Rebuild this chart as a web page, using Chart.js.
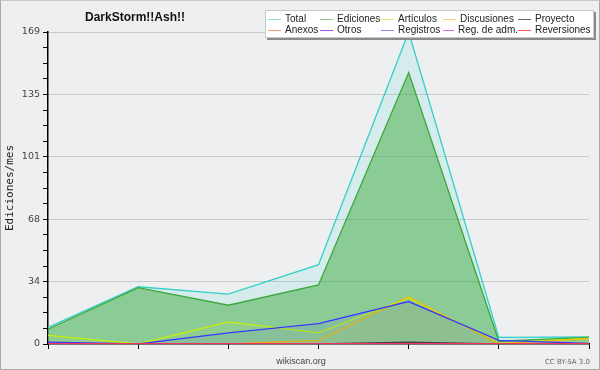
<!DOCTYPE html>
<html>
<head>
<meta charset="utf-8">
<script src="https://cdn.jsdelivr.net/npm/chart.js@4.4.0/dist/chart.umd.min.js"></script>
<style>
  html, body { margin: 0; padding: 0; background: #eeeff0; }
  #wrap { position: relative; width: 600px; height: 370px; box-sizing: border-box; border: 1px solid #a8a8a8; border-top-color: #c8c8c8; background: #eeeff0; overflow: hidden; }
  #chart { position: absolute; left: -1px; top: -1px; }
  #title { position: absolute; left: 84px; top: 9px; font: bold 12px "Liberation Sans", Arial, sans-serif; color: #111; }
  #legend { position: absolute; left: 264px; top: 9px; width: 329px; height: 28px; background: #fff; border: 1px solid #c8c8c8; box-shadow: 2px 2px 0 #8a8a8a; display: grid; grid-template-columns: 52px 61px 62px 75px auto; grid-auto-rows: 11px; padding: 2px 0 0 2px; box-sizing: border-box; font: 10px "Liberation Sans", Arial, sans-serif; color: #222; }
  .li { display: flex; align-items: center; white-space: nowrap; }
  .li span.sw { display: inline-block; width: 13px; height: 1px; margin-right: 4px; margin-top: 1px; }
  #site { position: absolute; left: 0; width: 600px; top: 355px; text-align: center; font: 9px "Liberation Sans", Arial, sans-serif; color: #444; }
  #cc { position: absolute; right: 9px; top: 357px; font: 7px "DejaVu Sans", sans-serif; color: #666; }
</style>
</head>
<body>
<div id="wrap">
  <canvas id="chart" width="600" height="370"></canvas>
  <div id="title">DarkStorm!!Ash!!</div>
  <div id="legend"></div>
  <div id="site">wikiscan.org</div>
  <div id="cc">CC BY-SA 3.0</div>
</div>
<script>
// ---- data ----
const categories = ['P1', 'P2', 'P3', 'P4', 'P5', 'P6', 'P7'];
const total       = [9, 31, 27, 43, 169, 3.6, 3.8];
const ediciones   = [8, 30.5, 21, 32, 147, 1.5, 3.6];
const articulos   = [4.7, 0, 12, 6, 25, 0.5, 3];
const discusiones = [0, 0, 0, 2, 25.5, 0, 3.1];
const proyecto    = [0, 0, 0, 0, 1, 0, 0];
const anexos      = [0, 0, 0, 0, 0, 0, 0];
const otros       = [0, 0, 0, 0, 0, 0, 0];
const registros   = [1, 0, 6, 11, 23, 2, 0.3];
const regAdm      = [0, 0, 0, 0, 0, 0, 0];
const reversiones = [0, 0, 0, 0, 0, 0, 0];
const yMax = 169;
const yTickLabels = ['0', '34', '68', '101', '135', '169'];
const seriesNames = ['Total', 'Ediciones', 'Artículos', 'Discusiones', 'Proyecto', 'Anexos', 'Otros', 'Registros', 'Reg. de adm.', 'Reversiones'];

const series = [total, ediciones, articulos, discusiones, proyecto, anexos, otros, registros, regAdm, reversiones];
const lineColors = ['#34d0c6', '#3aa83a', '#c4ef10', '#efc000', '#444444', '#ff8040', '#9933dd', '#3a3aff', '#dd33dd', '#ff3333'];
const fillColors = ['rgba(52,208,198,0.13)', 'rgba(58,168,58,0.48)', 'rgba(196,239,16,0.06)', 'rgba(239,192,0,0.06)', 'rgba(68,68,68,0.3)', 'rgba(255,128,64,0.1)', 'rgba(153,51,221,0.1)', 'rgba(58,58,255,0.09)', 'rgba(221,51,221,0.1)', 'rgba(255,51,51,0.1)'];
const legendColors = ['#86e2dc', '#86c986', '#d6f47a', '#f6d466', '#666666', '#ff9a6a', '#a64ee6', '#8a8aff', '#e36ee3', '#ff5050'];

const datasets = series.map((d, i) => ({
  label: seriesNames[i],
  data: d,
  borderColor: lineColors[i],
  backgroundColor: fillColors[i],
  borderWidth: 1.3,
  pointRadius: 0,
  tension: 0,
  fill: 'origin',
  order: series.length - i
}));

// legend (HTML, real text)
const legendEl = document.getElementById('legend');
seriesNames.forEach((name, i) => {
  const div = document.createElement('div');
  div.className = 'li';
  const sw = document.createElement('span');
  sw.className = 'sw';
  sw.style.background = legendColors[i];
  div.appendChild(sw);
  div.appendChild(document.createTextNode(name));
  legendEl.appendChild(div);
});

new Chart(document.getElementById('chart'), {
  type: 'line',
  data: { labels: categories, datasets },
  options: {
    responsive: false,
    animation: false,
    layout: { padding: { top: 32, right: 11, bottom: 20, left: 0 } },
    plugins: { legend: { display: false }, tooltip: { enabled: false }, title: { display: false } },
    scales: {
      x: {
        offset: false,
        ticks: { display: false },
        grid: { drawOnChartArea: false, drawTicks: true, tickLength: 5, tickColor: '#000', tickWidth: 1 },
        border: { display: true, color: '#000', width: 1.5 },
        afterFit: s => { s.height = 6; }
      },
      y: {
        min: 0, max: yMax,
        afterBuildTicks: s => {
          const t = [];
          for (let i = 0; i <= 20; i++) t.push({ value: yMax * i / 20 });
          s.ticks = t;
        },
        ticks: {
          autoSkip: false,
          padding: 3,
          color: '#444',
          font: { family: 'DejaVu Sans', size: 9.5 },
          callback: (v, i) => (i % 4 === 0 ? yTickLabels[i / 4] : '')
        },
        grid: {
          drawTicks: true,
          tickLength: 5,
          tickColor: '#000',
          color: ctx => (ctx.index % 4 === 0 && ctx.index > 0 ? '#c9c9c9' : 'rgba(0,0,0,0)'),
          lineWidth: 1
        },
        border: { display: true, color: '#000', width: 1.5 },
        title: { display: true, text: 'Ediciones/mes', color: '#222', font: { family: 'DejaVu Sans Mono', size: 11 }, padding: { top: 4, bottom: 0 } },
        afterFit: s => { s.width = 48; }
      }
    }
  }
});
</script>
</body>
</html>
